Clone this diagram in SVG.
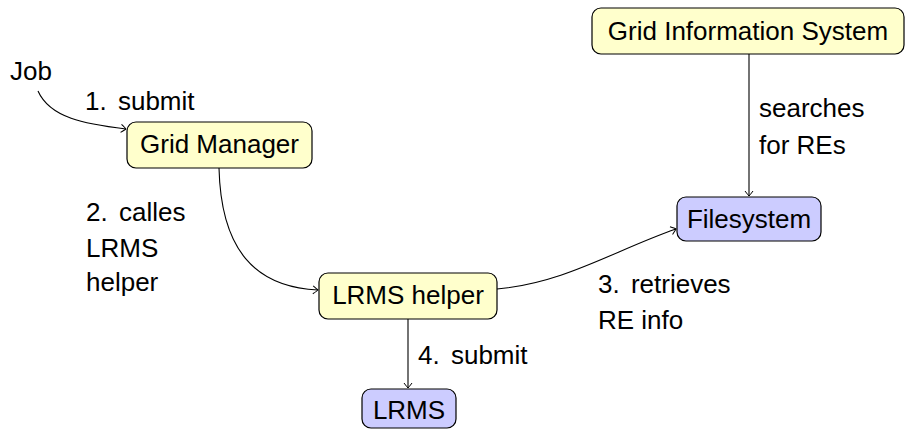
<svg xmlns="http://www.w3.org/2000/svg" width="905" height="429" viewBox="0 0 905 429">
<style>
text { font-family: "Liberation Sans", Arial, sans-serif; font-size: 26px; fill: #000; }
.node text { text-anchor: middle; }
.y { fill: #ffffcc; stroke: #000; stroke-width: 1.2; }
.b { fill: #ccccff; stroke: #000; stroke-width: 1.2; }
.edge { fill: none; stroke: #000; stroke-width: 1.1; marker-end: url(#arr); }
</style>
<defs>
<marker id="arr" viewBox="-6 -5 8 10" refX="0" refY="0" markerWidth="8" markerHeight="10" markerUnits="userSpaceOnUse" orient="auto">
<path d="M-5,-4 Q-1,-1 0,0 Q-1,1 -5,4" fill="none" stroke="#000" stroke-width="1"/>
</marker>
</defs>
<rect width="905" height="429" fill="#fff"/>
<g id="job"><text x="10" y="80">Job</text></g>
<g id="gridmanager" class="node"><rect class="y" x="127" y="122" width="185" height="46" rx="9"/><text x="219.5" y="153">Grid Manager</text></g>
<g id="lrmshelper" class="node"><rect class="y" x="319" y="273" width="178" height="46" rx="9"/><text x="408" y="304">LRMS helper</text></g>
<g id="lrms" class="node"><rect class="b" x="362" y="389" width="94" height="39" rx="9"/><text x="409" y="419">LRMS</text></g>
<g id="filesystem" class="node"><rect class="b" x="677" y="197" width="144" height="44" rx="9"/><text x="749" y="228">Filesystem</text></g>
<g id="gis" class="node"><rect class="y" x="592" y="8" width="312" height="46" rx="9"/><text x="748" y="40">Grid Information System</text></g>
<g id="connectors">
<path class="edge" d="M38,91 C50,118 85,124 126,129"/>
<path class="edge" d="M219,168 C221,250 255,287 318,290"/>
<path class="edge" d="M408,319 L408,388"/>
<path class="edge" d="M749,54 L749,196"/>
<path class="edge" d="M497,289 C565,283 615,250 676,229"/>
</g>
<g id="labels">
<text x="85" y="110">1. <tspan dx="4">submit</tspan></text>
<text x="86" y="221">2. <tspan dx="4">calles</tspan></text>
<text x="86" y="257">LRMS</text>
<text x="86" y="291">helper</text>
<text x="598" y="293">3. <tspan dx="4">retrieves</tspan></text>
<text x="598" y="329">RE info</text>
<text x="418" y="364">4. <tspan dx="4">submit</tspan></text>
<text x="759" y="117">searches</text>
<text x="759" y="154">for REs</text>
</g>
</svg>
